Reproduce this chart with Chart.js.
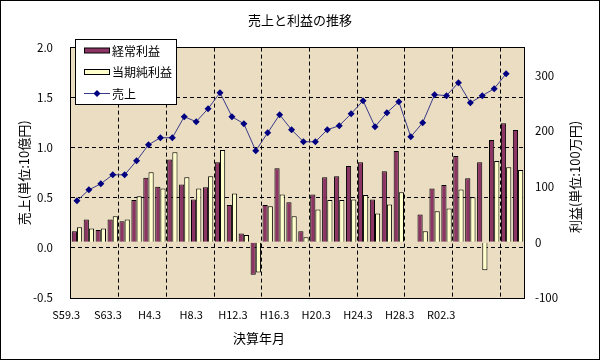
<!DOCTYPE html>
<html><head><meta charset="utf-8">
<script src="https://cdn.jsdelivr.net/npm/chart.js@4/dist/chart.umd.min.js"></script>
<style>html,body{margin:0;padding:0;background:#fff}</style>
</head><body>
<canvas id="c" width="600" height="360"></canvas>
<script>
// ---- data ----
const categories = ['S59.3','S60.3','S61.3','S62.3','S63.3','H1.3','H2.3','H3.3','H4.3','H5.3',
  'H6.3','H7.3','H8.3','H9.3','H10.3','H11.3','H12.3','H13.3','H14.3','H15.3',
  'H16.3','H17.3','H18.3','H19.3','H20.3','H21.3','H22.3','H23.3','H24.3','H25.3',
  'H26.3','H27.3','H28.3','H29.3','H30.3','H31.3','R02.3','R03.3'];
const sales = [0.47,0.58,0.64,0.73,0.73,0.87,1.03,1.10,1.10,1.31,
  1.26,1.39,1.55,1.31,1.24,0.97,1.15,1.33,1.18,1.06,
  1.06,1.18,1.22,1.34,1.47,1.21,1.35,1.46,1.11,1.25,
  1.53,1.52,1.65,1.45,1.52,1.59,1.74,null];
const ordinaryProfit = [20,41,22,41,38,76,116,100,149,104,
  77,99,144,67,16,-58,67,133,72,20,
  86,117,119,137,144,77,128,164,1,50,
  97,103,155,115,144,184,214,202];
const netProfit = [27,25,25,47,41,83,126,97,162,117,
  97,119,166,88,13,-54,65,86,47,9,
  59,76,76,77,85,52,68,90,1,20,
  56,61,95,81,-50,146,135,130];
const tickLabels = ['S59.3','S63.3','H4.3','H8.3','H12.3','H16.3','H20.3','H24.3','H28.3','R02.3'];
const rightTicks = [-100,0,100,200,300];
const seriesNames = ['経常利益','当期純利益','売上'];
const chartTitle = '売上と利益の推移';
const leftTitle = '売上(単位:10億円)';
const rightTitle = '利益(単位:100万円)';
const xTitle = '決算年月';

const FONT = "'Noto Sans CJK JP', 'Liberation Sans', sans-serif";
const MAROON = '#8C3464';
const CREAM = '#FFFFCC';
const DASH = [4,3];

const framePlugin = {
  id: 'frame',
  beforeDraw(chart) {
    const {ctx, chartArea: a} = chart;
    ctx.save();
    ctx.fillStyle = '#fff';
    ctx.fillRect(0, 0, chart.width, chart.height);
    ctx.fillStyle = '#EADDC2';
    ctx.fillRect(a.left, a.top, a.right - a.left, a.bottom - a.top);
    ctx.restore();
  },
  afterDraw(chart) {
    const {ctx, chartArea: a} = chart;
    ctx.save();
    ctx.strokeStyle = '#000';
    ctx.lineWidth = 1;
    ctx.strokeRect(Math.round(a.left) - 0.5, Math.round(a.top) - 0.5,
      Math.round(a.right - a.left) + 1, Math.round(a.bottom - a.top) + 1);
    ctx.strokeRect(0.5, 0.5, chart.width - 1, chart.height - 1);
    // titles
    ctx.fillStyle = '#000';
    ctx.font = '13px ' + FONT;
    ctx.textAlign = 'center';
    ctx.textBaseline = 'middle';
    ctx.fillText(xTitle, 259, 338);
    ctx.save();
    ctx.translate(575, 177);
    ctx.rotate(-Math.PI / 2);
    ctx.fillText(rightTitle, 0, 0);
    ctx.restore();
    // legend
    const lx = 75, ly = 39, lw = 102, lh = 66;
    ctx.fillStyle = '#fff';
    ctx.fillRect(lx, ly, lw, lh);
    ctx.strokeRect(lx + 0.5, ly + 0.5, lw - 1, lh - 1);
    const ys = [50.5, 72, 93.5];
    const ds = chart.data.datasets;
    ctx.textAlign = 'left';
    ctx.font = '12px ' + FONT;
    ds.forEach((d, i) => {
      const yc = ys[i];
      if (d.type === 'line') {
        ctx.strokeStyle = d.borderColor;
        ctx.beginPath();
        ctx.moveTo(84, yc); ctx.lineTo(110, yc); ctx.stroke();
        ctx.fillStyle = d.pointBackgroundColor;
        ctx.beginPath();
        ctx.moveTo(97, yc - 3.5); ctx.lineTo(100.5, yc); ctx.lineTo(97, yc + 3.5); ctx.lineTo(93.5, yc);
        ctx.closePath(); ctx.fill();
      } else {
        ctx.fillStyle = d.backgroundColor;
        ctx.fillRect(84, yc - 2.5, 26, 5);
        ctx.strokeStyle = '#000';
        ctx.strokeRect(84.5, yc - 2.5, 25, 5);
      }
      ctx.fillStyle = '#000';
      ctx.fillText(d.label, 112, yc + 0.5);
    });
    ctx.restore();
  }
};

new Chart(document.getElementById('c'), {
  type: 'bar',
  data: {
    labels: categories,
    datasets: [
      { type: 'bar', label: seriesNames[0], data: ordinaryProfit, backgroundColor: MAROON,
        borderColor: '#000', borderWidth: 1, yAxisID: 'y1', xAxisID: 'x', order: 1,
        barPercentage: 1.0, categoryPercentage: 0.87 },
      { type: 'bar', label: seriesNames[1], data: netProfit, backgroundColor: CREAM,
        borderColor: '#000', borderWidth: 1, yAxisID: 'y1', xAxisID: 'x', order: 1,
        barPercentage: 1.0, categoryPercentage: 0.87 },
      { type: 'line', label: seriesNames[2], data: sales, borderColor: '#3A3A8A', borderWidth: 1,
        pointStyle: 'rectRot', pointRadius: 3.5, pointBackgroundColor: '#000080',
        pointBorderColor: '#000080', pointBorderWidth: 0, tension: 0, yAxisID: 'y', xAxisID: 'x', order: 0 }
    ]
  },
  options: {
    responsive: false,
    animation: false,
    devicePixelRatio: 1,
    layout: { padding: 0 },
    plugins: {
      legend: { display: false },
      tooltip: { enabled: false },
      title: { display: true, text: chartTitle, color: '#000',
        font: { family: FONT, size: 13, weight: 'normal' }, padding: { top: 12, bottom: 20 } }
    },
    scales: {
      x: {
        type: 'category', position: 'bottom', offset: true,
        ticks: { display: false },
        grid: { offset: true, drawTicks: false, lineWidth: 1,
          color: c => (c.index > 0 && c.index < categories.length && c.index % 4 === 0) ? '#000' : 'rgba(0,0,0,0)' },
        border: { display: false, dash: DASH },
        afterFit: s => { s.height = 0; }
      },
      xt: {
        type: 'linear', position: 'bottom', min: 0.115, max: 10.986, bounds: 'data', offset: false,
        afterBuildTicks: s => { s.ticks = tickLabels.map((_, i) => ({ value: i })); },
        ticks: { autoSkip: false, maxRotation: 0, padding: 10, color: '#000',
          font: { family: FONT, size: 11 }, callback: (v, i) => tickLabels[i] },
        grid: { display: false, drawTicks: false, offset: false },
        border: { display: false },
        afterFit: s => { s.height = 62; }
      },
      y: {
        position: 'left', min: -0.5, max: 2.0,
        ticks: { stepSize: 0.5, padding: 18, color: '#000', font: { family: FONT, size: 11.5 },
          callback: v => Number(v).toFixed(1) },
        grid: { drawTicks: false, color: '#000', lineWidth: 1 },
        border: { display: false, dash: DASH },
        title: { display: true, text: leftTitle, color: '#000', font: { family: FONT, size: 13 },
          padding: { top: 16, bottom: 0 } },
        afterFit: s => { s.width = 71; }
      },
      y1: {
        position: 'right', min: -100, max: 350,
        afterBuildTicks: s => { s.ticks = rightTicks.map(v => ({ value: v })); },
        ticks: { padding: 11, color: '#000', font: { family: FONT, size: 11.5 } },
        grid: { drawOnChartArea: false, drawTicks: false },
        border: { display: false },
        afterFit: s => { s.width = 76; }
      }
    }
  },
  plugins: [framePlugin]
});
</script>
</body></html>
